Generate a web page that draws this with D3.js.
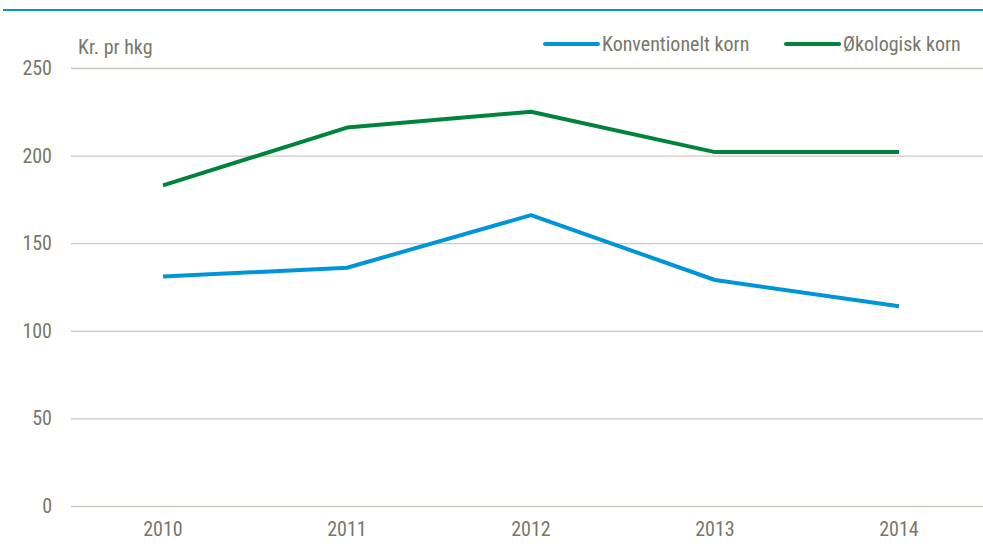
<!DOCTYPE html>
<html><head><meta charset="utf-8">
<script src="https://cdn.jsdelivr.net/npm/d3@7"></script>
<style>
body{margin:0;background:#fff;}
svg{display:block;}
</style></head>
<body><svg id="c" width="983" height="546"></svg>
<script>
const years = ["2010","2011","2012","2013","2014"];
const konventionelt = [131, 136, 166, 129, 114];
const okologisk = [183, 216, 225, 202, 202];
const yTicks = [0, 50, 100, 150, 200, 250];
const seriesNames = ["Konventionelt korn", "Økologisk korn"];
const seriesColors = ["#0095d8", "#00843d"];

(function(){
const FONT = "'Liberation Sans Narrow','Arial Narrow','Roboto Condensed',sans-serif";
const FS = 20;
const svg = d3.select("#c").attr("font-family", FONT);
const mLeft = 71, mRight = 991, mTop = 68, mBottom = 506;
const x = d3.scaleBand().domain(years).range([mLeft, mRight]);
const y = d3.scaleLinear().domain([0, 250]).range([mBottom, mTop]);
const txt = "#77776a";

svg.append("line").attr("x1", 3).attr("x2", 983).attr("y1", 10).attr("y2", 10)
  .attr("stroke", "#0095d8").attr("stroke-width", 2);

const yAxis = d3.axisLeft(y).tickValues(yTicks).tickSize(-(983 - mLeft)).tickPadding(19);
const gy = svg.append("g").attr("transform", `translate(${mLeft},0)`).call(yAxis)
  .attr("font-family", FONT).attr("font-size", FS);
gy.select(".domain").remove();
gy.selectAll(".tick line").attr("stroke", "#c9c9be").attr("stroke-width", 1.3);
gy.selectAll(".tick text").attr("fill", txt);

const xAxis = d3.axisBottom(x).tickSize(0).tickPadding(16);
const gx = svg.append("g").attr("transform", `translate(0,${mBottom})`).call(xAxis)
  .attr("font-family", FONT).attr("font-size", FS);
gx.select(".domain").remove();
gx.selectAll(".tick text").attr("fill", txt);

svg.append("text").attr("x", 78).attr("y", 54).attr("fill", txt).attr("font-size", FS).text("Kr. pr hkg");

const line = d3.line().x((d, i) => x(years[i]) + x.bandwidth() / 2).y(d => y(d));
[konventionelt, okologisk].forEach((s, i) => {
  svg.append("path").datum(s).attr("d", line).attr("fill", "none")
    .attr("stroke", seriesColors[i]).attr("stroke-width", 4).attr("stroke-linejoin", "round");
});

const legX = [545, 786];
seriesNames.forEach((n, i) => {
  svg.append("line").attr("x1", legX[i]).attr("x2", legX[i] + 53).attr("y1", 44).attr("y2", 44)
    .attr("stroke", seriesColors[i]).attr("stroke-width", 4).attr("stroke-linecap", "round");
  svg.append("text").attr("x", legX[i] + 57).attr("y", 51).attr("fill", txt).attr("font-size", FS).text(n);
});
})();
</script></body></html>
